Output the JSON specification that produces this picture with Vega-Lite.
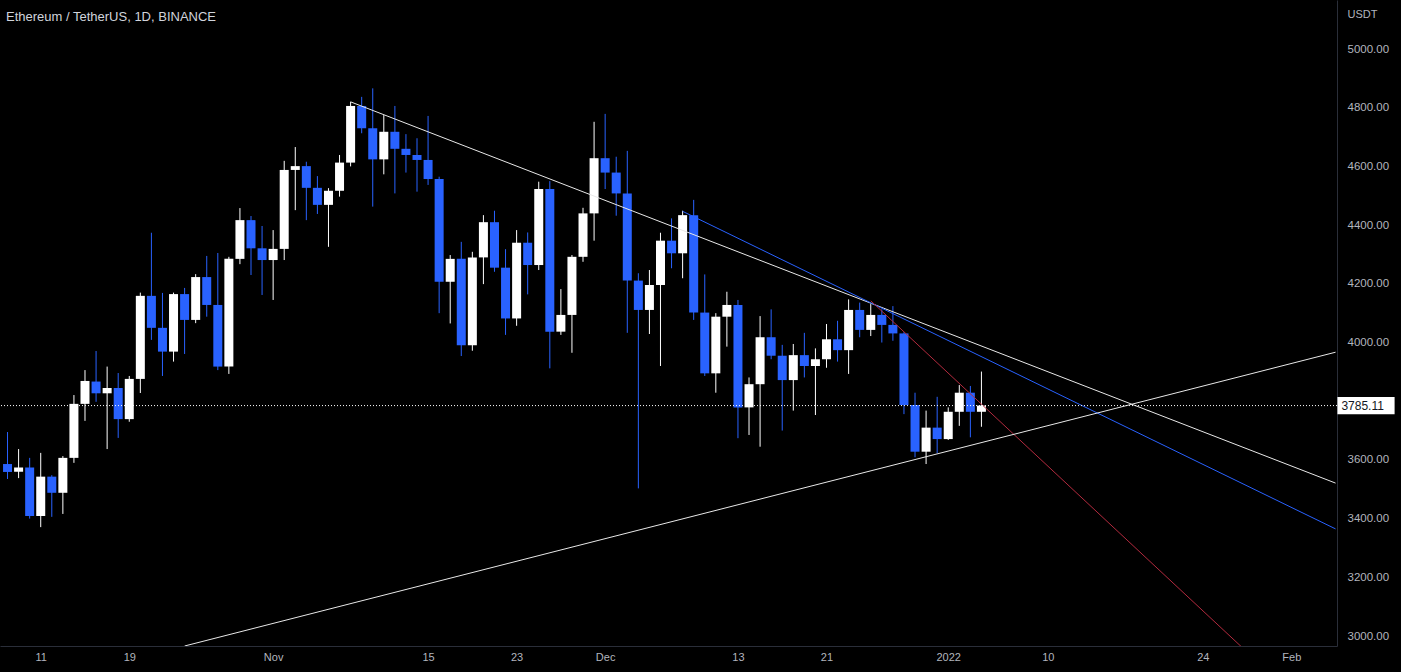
{
  "$schema": "https://vega.github.io/schema/vega-lite/v6.json",
  "width": 1337,
  "height": 646,
  "autosize": {"type": "none"},
  "padding": {"left": 0, "top": 0, "right": 64, "bottom": 26},
  "background": "#000000",
  "title": {"text": "Ethereum / TetherUS, 1D, BINANCE", "anchor": "start", "frame": "group", "orient": "top", "offset": -30, "baseline": "middle", "dx": 6, "font": "Liberation Sans", "fontSize": 13, "fontWeight": "normal", "color": "#d1d4dc"},
  "config": {"view": {"stroke": null}},
  "datasets": {
    "candles": [
      {"date": "2021-10-08", "o": 3586, "h": 3695, "l": 3535, "c": 3559},
      {"date": "2021-10-09", "o": 3560, "h": 3637, "l": 3538, "c": 3574},
      {"date": "2021-10-10", "o": 3574, "h": 3607, "l": 3400, "c": 3409},
      {"date": "2021-10-11", "o": 3409, "h": 3624, "l": 3371, "c": 3543},
      {"date": "2021-10-12", "o": 3543, "h": 3548, "l": 3406, "c": 3488},
      {"date": "2021-10-13", "o": 3488, "h": 3613, "l": 3416, "c": 3607},
      {"date": "2021-10-14", "o": 3607, "h": 3821, "l": 3590, "c": 3791},
      {"date": "2021-10-15", "o": 3791, "h": 3906, "l": 3733, "c": 3869},
      {"date": "2021-10-16", "o": 3867, "h": 3971, "l": 3798, "c": 3827},
      {"date": "2021-10-17", "o": 3827, "h": 3918, "l": 3637, "c": 3845},
      {"date": "2021-10-18", "o": 3845, "h": 3896, "l": 3675, "c": 3739},
      {"date": "2021-10-19", "o": 3739, "h": 3886, "l": 3730, "c": 3876},
      {"date": "2021-10-20", "o": 3876, "h": 4170, "l": 3828, "c": 4159},
      {"date": "2021-10-21", "o": 4159, "h": 4374, "l": 4009, "c": 4050},
      {"date": "2021-10-22", "o": 4050, "h": 4169, "l": 3886, "c": 3969},
      {"date": "2021-10-23", "o": 3969, "h": 4170, "l": 3935, "c": 4165},
      {"date": "2021-10-24", "o": 4165, "h": 4186, "l": 3961, "c": 4077},
      {"date": "2021-10-25", "o": 4077, "h": 4233, "l": 4066, "c": 4223},
      {"date": "2021-10-26", "o": 4223, "h": 4295, "l": 4088, "c": 4128},
      {"date": "2021-10-27", "o": 4128, "h": 4305, "l": 3906, "c": 3918},
      {"date": "2021-10-28", "o": 3918, "h": 4292, "l": 3893, "c": 4285},
      {"date": "2021-10-29", "o": 4285, "h": 4458, "l": 4267, "c": 4417},
      {"date": "2021-10-30", "o": 4417, "h": 4431, "l": 4230, "c": 4321},
      {"date": "2021-10-31", "o": 4321, "h": 4397, "l": 4162, "c": 4281},
      {"date": "2021-11-01", "o": 4281, "h": 4383, "l": 4145, "c": 4319},
      {"date": "2021-11-02", "o": 4319, "h": 4619, "l": 4281, "c": 4588},
      {"date": "2021-11-03", "o": 4588, "h": 4666, "l": 4451, "c": 4601},
      {"date": "2021-11-04", "o": 4601, "h": 4616, "l": 4417, "c": 4527},
      {"date": "2021-11-05", "o": 4527, "h": 4567, "l": 4438, "c": 4469},
      {"date": "2021-11-06", "o": 4469, "h": 4526, "l": 4326, "c": 4517},
      {"date": "2021-11-07", "o": 4517, "h": 4639, "l": 4497, "c": 4613},
      {"date": "2021-11-08", "o": 4613, "h": 4820, "l": 4600, "c": 4806},
      {"date": "2021-11-09", "o": 4806, "h": 4837, "l": 4713, "c": 4730},
      {"date": "2021-11-10", "o": 4730, "h": 4866, "l": 4463, "c": 4624},
      {"date": "2021-11-11", "o": 4624, "h": 4775, "l": 4573, "c": 4718},
      {"date": "2021-11-12", "o": 4718, "h": 4806, "l": 4508, "c": 4660},
      {"date": "2021-11-13", "o": 4660, "h": 4710, "l": 4579, "c": 4639},
      {"date": "2021-11-14", "o": 4639, "h": 4696, "l": 4514, "c": 4622},
      {"date": "2021-11-15", "o": 4622, "h": 4772, "l": 4537, "c": 4557},
      {"date": "2021-11-16", "o": 4557, "h": 4565, "l": 4100, "c": 4207},
      {"date": "2021-11-17", "o": 4207, "h": 4298, "l": 4065, "c": 4285},
      {"date": "2021-11-18", "o": 4285, "h": 4343, "l": 3954, "c": 3991},
      {"date": "2021-11-19", "o": 3991, "h": 4309, "l": 3972, "c": 4290},
      {"date": "2021-11-20", "o": 4290, "h": 4434, "l": 4199, "c": 4410},
      {"date": "2021-11-21", "o": 4410, "h": 4449, "l": 4241, "c": 4255},
      {"date": "2021-11-22", "o": 4255, "h": 4318, "l": 4026, "c": 4082},
      {"date": "2021-11-23", "o": 4082, "h": 4383, "l": 4057, "c": 4340},
      {"date": "2021-11-24", "o": 4340, "h": 4375, "l": 4164, "c": 4264},
      {"date": "2021-11-25", "o": 4264, "h": 4548, "l": 4247, "c": 4523},
      {"date": "2021-11-26", "o": 4523, "h": 4550, "l": 3912, "c": 4037},
      {"date": "2021-11-27", "o": 4037, "h": 4182, "l": 4026, "c": 4094},
      {"date": "2021-11-28", "o": 4094, "h": 4298, "l": 3965, "c": 4292},
      {"date": "2021-11-29", "o": 4292, "h": 4459, "l": 4275, "c": 4440},
      {"date": "2021-11-30", "o": 4440, "h": 4752, "l": 4347, "c": 4628},
      {"date": "2021-12-01", "o": 4628, "h": 4779, "l": 4523, "c": 4579},
      {"date": "2021-12-02", "o": 4579, "h": 4633, "l": 4432, "c": 4508},
      {"date": "2021-12-03", "o": 4508, "h": 4653, "l": 4033, "c": 4211},
      {"date": "2021-12-04", "o": 4211, "h": 4236, "l": 3503, "c": 4111},
      {"date": "2021-12-05", "o": 4111, "h": 4247, "l": 4029, "c": 4196},
      {"date": "2021-12-06", "o": 4196, "h": 4374, "l": 3920, "c": 4347},
      {"date": "2021-12-07", "o": 4347, "h": 4423, "l": 4253, "c": 4304},
      {"date": "2021-12-08", "o": 4304, "h": 4449, "l": 4219, "c": 4434},
      {"date": "2021-12-09", "o": 4434, "h": 4486, "l": 4077, "c": 4102},
      {"date": "2021-12-10", "o": 4102, "h": 4232, "l": 3886, "c": 3895},
      {"date": "2021-12-11", "o": 3895, "h": 4100, "l": 3829, "c": 4088},
      {"date": "2021-12-12", "o": 4088, "h": 4173, "l": 3986, "c": 4128},
      {"date": "2021-12-13", "o": 4128, "h": 4145, "l": 3674, "c": 3779},
      {"date": "2021-12-14", "o": 3779, "h": 3881, "l": 3685, "c": 3858},
      {"date": "2021-12-15", "o": 3858, "h": 4090, "l": 3645, "c": 4018},
      {"date": "2021-12-16", "o": 4018, "h": 4113, "l": 3943, "c": 3955},
      {"date": "2021-12-17", "o": 3955, "h": 3992, "l": 3700, "c": 3872},
      {"date": "2021-12-18", "o": 3872, "h": 3995, "l": 3768, "c": 3957},
      {"date": "2021-12-19", "o": 3957, "h": 4033, "l": 3881, "c": 3920},
      {"date": "2021-12-20", "o": 3920, "h": 3980, "l": 3753, "c": 3943},
      {"date": "2021-12-21", "o": 3943, "h": 4063, "l": 3914, "c": 4011},
      {"date": "2021-12-22", "o": 4011, "h": 4074, "l": 3935, "c": 3974},
      {"date": "2021-12-23", "o": 3974, "h": 4147, "l": 3893, "c": 4111},
      {"date": "2021-12-24", "o": 4111, "h": 4136, "l": 4018, "c": 4043},
      {"date": "2021-12-25", "o": 4043, "h": 4131, "l": 4022, "c": 4094},
      {"date": "2021-12-26", "o": 4094, "h": 4113, "l": 4000, "c": 4060},
      {"date": "2021-12-27", "o": 4060, "h": 4124, "l": 4006, "c": 4031},
      {"date": "2021-12-28", "o": 4031, "h": 4035, "l": 3756, "c": 3787},
      {"date": "2021-12-29", "o": 3787, "h": 3829, "l": 3609, "c": 3628},
      {"date": "2021-12-30", "o": 3628, "h": 3768, "l": 3586, "c": 3710},
      {"date": "2021-12-31", "o": 3710, "h": 3815, "l": 3623, "c": 3671},
      {"date": "2022-01-01", "o": 3671, "h": 3779, "l": 3668, "c": 3764},
      {"date": "2022-01-02", "o": 3764, "h": 3855, "l": 3716, "c": 3829},
      {"date": "2022-01-03", "o": 3829, "h": 3852, "l": 3677, "c": 3764},
      {"date": "2022-01-04", "o": 3764, "h": 3901, "l": 3713, "c": 3785.11}
    ],
    "lines": [
      {"line": "upper", "date": "2021-11-08", "price": 4820},
      {"line": "upper", "date": "2022-02-05", "price": 3521},
      {"line": "blue", "date": "2021-12-08", "price": 4447},
      {"line": "blue", "date": "2022-02-05", "price": 3365},
      {"line": "red", "date": "2021-12-25", "price": 4142},
      {"line": "red", "date": "2022-02-05", "price": 2664},
      {"line": "lower", "date": "2021-10-24", "price": 2966},
      {"line": "lower", "date": "2022-02-05", "price": 3967}
    ],
    "last": [{"last": 3785.11}]
  },
  "layer": [
    {
      "data": {"name": "candles"},
      "mark": {"type": "rule", "strokeWidth": 1},
      "encoding": {
        "x": {
          "field": "date", "type": "temporal",
          "scale": {"type": "utc", "domain": [{"year": 2021, "month": 10, "date": 7, "hours": 18, "minutes": 31, "utc": true}, {"year": 2022, "month": 2, "date": 4, "hours": 16, "minutes": 15, "utc": true}]},
          "axis": {
            "title": null,
            "values": [
              {"year": 2021, "month": 10, "date": 11, "utc": true},
              {"year": 2021, "month": 10, "date": 19, "utc": true},
              {"year": 2021, "month": 11, "date": 1, "utc": true},
              {"year": 2021, "month": 11, "date": 15, "utc": true},
              {"year": 2021, "month": 11, "date": 23, "utc": true},
              {"year": 2021, "month": 12, "date": 1, "utc": true},
              {"year": 2021, "month": 12, "date": 13, "utc": true},
              {"year": 2021, "month": 12, "date": 21, "utc": true},
              {"year": 2022, "month": 1, "date": 1, "utc": true},
              {"year": 2022, "month": 1, "date": 10, "utc": true},
              {"year": 2022, "month": 1, "date": 24, "utc": true},
              {"year": 2022, "month": 2, "date": 1, "utc": true}
            ],
            "labelExpr": "utcFormat(datum.value, '%d') == '01' ? (utcFormat(datum.value, '%m') == '01' ? utcFormat(datum.value, '%Y') : utcFormat(datum.value, '%b')) : utcFormat(datum.value, '%-d')",
            "grid": false, "ticks": false, "labelFlush": false, "labelOverlap": false,
            "domainColor": "#2a2e39", "labelColor": "#b2b5be", "labelFont": "Liberation Sans", "labelFontSize": 11, "labelPadding": 5
          }
        },
        "y": {
          "field": "l", "type": "quantitative",
          "scale": {"domain": [2966, 5167], "nice": false, "zero": false},
          "axis": {
            "orient": "right", "values": [3000, 3200, 3400, 3600, 3800, 4000, 4200, 4400, 4600, 4800, 5000], "format": ".2f",
            "grid": false, "ticks": false, "labelPadding": 10,
            "domainColor": "#2a2e39", "labelColor": "#b2b5be", "labelFont": "Liberation Sans", "labelFontSize": 11.5,
            "title": "USDT", "titleAngle": 0, "titleAlign": "left", "titleBaseline": "middle", "titleX": 10, "titleY": 14,
            "titleFont": "Liberation Sans", "titleFontSize": 11, "titleFontWeight": "normal", "titleColor": "#b2b5be"
          }
        },
        "y2": {"field": "h"},
        "color": {"condition": {"test": "datum.c >= datum.o", "value": "#ffffff"}, "value": "#2962ff"}
      }
    },
    {
      "data": {"name": "candles"},
      "mark": {"type": "bar", "width": 9},
      "encoding": {
        "x": {"field": "date", "type": "temporal"},
        "y": {"field": "o", "type": "quantitative"},
        "y2": {"field": "c"},
        "color": {"condition": {"test": "datum.c >= datum.o", "value": "#ffffff"}, "value": "#2962ff"}
      }
    },
    {
      "data": {"name": "lines"},
      "mark": {"type": "line", "strokeWidth": 1, "clip": true},
      "encoding": {
        "x": {"field": "date", "type": "temporal"},
        "y": {"field": "price", "type": "quantitative"},
        "detail": {"field": "line"},
        "color": {"field": "line", "type": "nominal", "legend": null, "scale": {"domain": ["upper", "blue", "red", "lower"], "range": ["#e8e8e8", "#2962ff", "#b22a3e", "#e8e8e8"]}}
      }
    },
    {
      "data": {"name": "last"},
      "mark": {"type": "rule", "strokeDash": [1, 2], "strokeWidth": 1, "color": "#ffffff"},
      "encoding": {"y": {"field": "last", "type": "quantitative"}}
    },
    {
      "data": {"name": "last"},
      "mark": {"type": "rect", "color": "#ffffff"},
      "encoding": {
        "x": {"datum": {"year": 2022, "month": 2, "date": 5, "hours": 4, "utc": true}, "type": "temporal"},
        "x2": {"datum": {"year": 2022, "month": 2, "date": 10, "hours": 8, "utc": true}},
        "y": {"datum": 3814, "type": "quantitative"},
        "y2": {"datum": 3756}
      }
    },
    {
      "data": {"name": "last"},
      "mark": {"type": "text", "align": "left", "baseline": "middle", "dx": 4, "font": "Liberation Sans", "fontSize": 12, "color": "#131722"},
      "encoding": {
        "x": {"datum": {"year": 2022, "month": 2, "date": 5, "hours": 4, "utc": true}, "type": "temporal"},
        "y": {"field": "last", "type": "quantitative"},
        "text": {"field": "last", "type": "quantitative", "format": ".2f"}
      }
    }
  ]
}
